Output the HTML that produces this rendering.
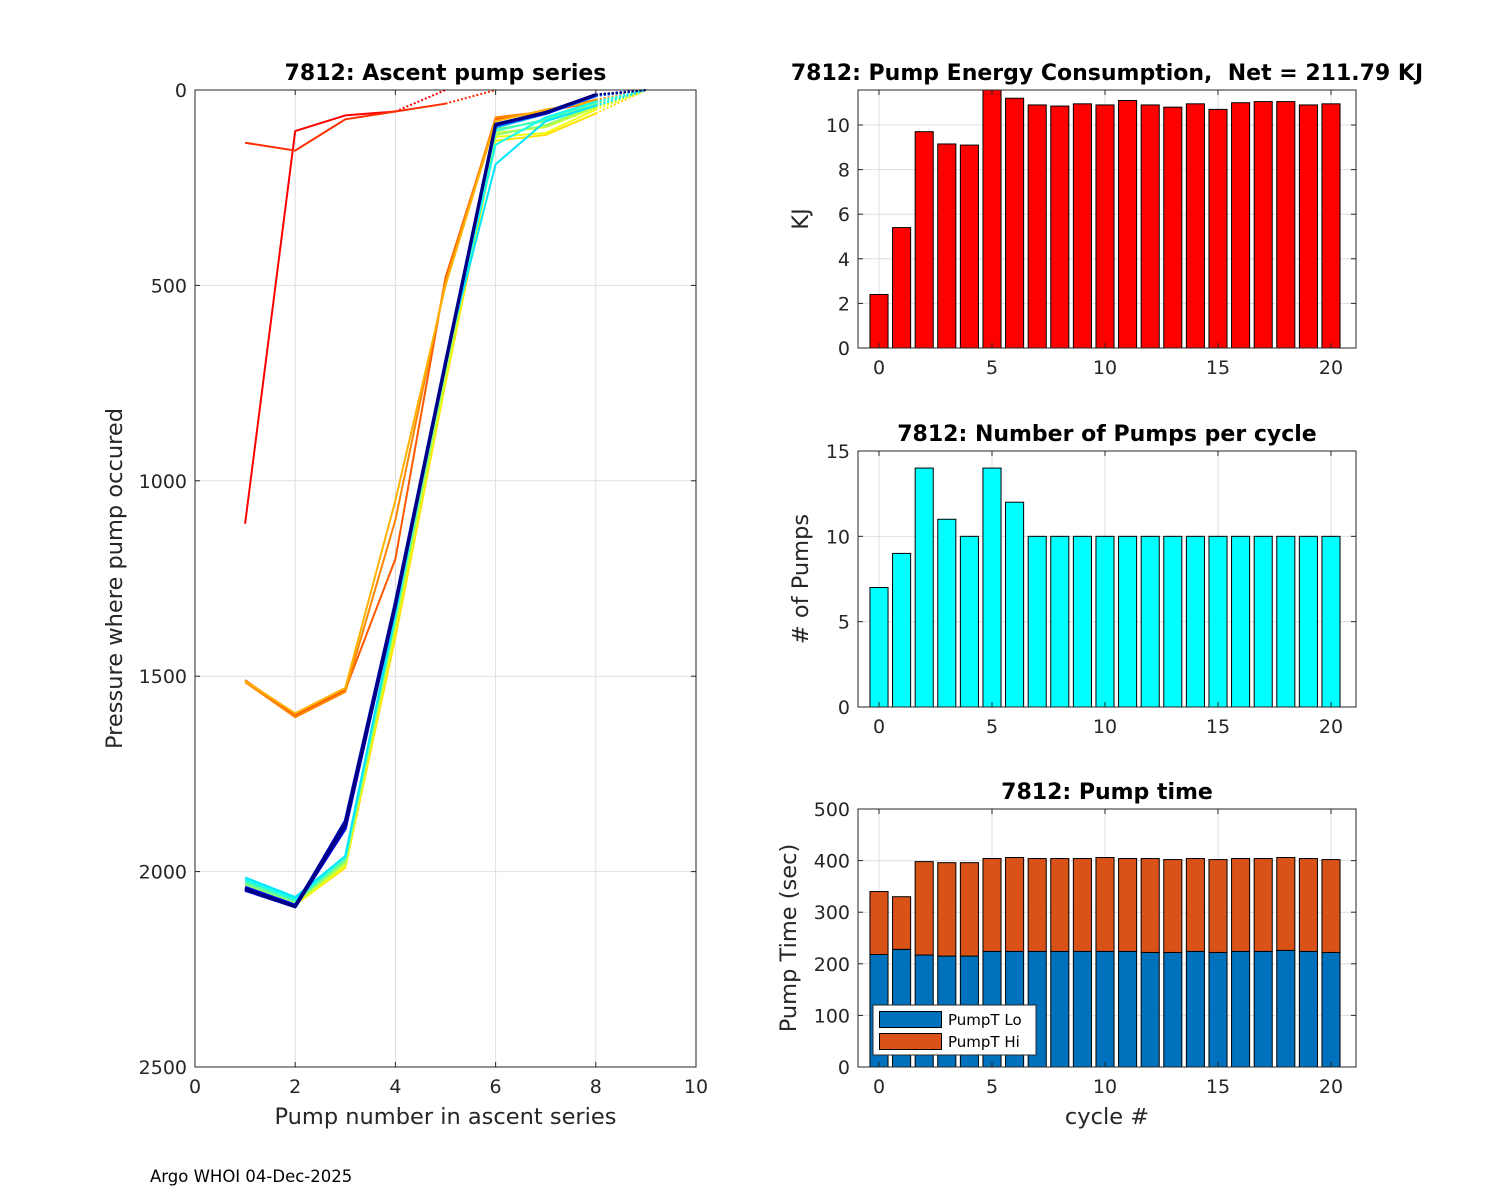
<!DOCTYPE html>
<html><head><meta charset="utf-8">
<style>
html,body{margin:0;padding:0;background:#fff;}
svg{display:block;font-family:"DejaVu Sans","Liberation Sans",sans-serif;}
</style></head>
<body>
<svg id="fig" width="1500" height="1200" viewBox="0 0 1500 1200" xmlns="http://www.w3.org/2000/svg"></svg>
<script>
// ---------- DATA ----------
const cycles = [0,1,2,3,4,5,6,7,8,9,10,11,12,13,14,15,16,17,18,19,20];
const energyKJ = [2.4,5.4,9.7,9.15,9.1,11.6,11.2,10.9,10.85,10.95,10.9,11.1,10.9,10.8,10.95,10.7,11.0,11.05,11.05,10.9,10.95];
const pumpCounts = [7,9,14,11,10,14,12,10,10,10,10,10,10,10,10,10,10,10,10,10,10];
const pumpTLo = [218,228,217,215,215,224,224,224,224,224,224,224,222,222,224,222,224,224,226,224,222];
const pumpTHi = [122,102,181,181,181,180,182,180,180,180,182,180,182,180,180,180,180,180,180,180,180];
const ascentSeries = [
 [1110,105,65,55,0],
 [135,155,75,55,35,0],
 [1510,1600,1535,1200,480,75,55,30,0],
 [1515,1605,1540,1100,490,70,55,25,0],
 [1512,1595,1530,1050,500,80,50,30,0],
 [2045,2085,1990,1400,750,130,115,60,0],
 [2040,2085,1985,1380,740,120,110,50,0],
 [2040,2080,1980,1370,730,110,95,45,0],
 [2035,2080,1975,1360,720,115,90,40,0],
 [2030,2075,1970,1350,710,100,80,35,0],
 [2025,2075,1965,1345,700,105,75,30,0],
 [2020,2070,1960,1340,690,140,70,30,0],
 [2015,2065,1960,1340,690,190,80,40,0],
 [2045,2090,1880,1320,700,95,60,15,0],
 [2042,2088,1875,1315,700,92,60,15,0],
 [2044,2090,1885,1320,700,90,58,15,0],
 [2046,2090,1870,1310,695,90,58,12,0],
 [2040,2086,1878,1315,700,88,60,12,0],
 [2048,2090,1890,1320,700,90,58,12,0],
 [2043,2088,1872,1312,698,88,57,12,0],
 [2045,2090,1880,1318,700,88,58,12,0]
];
const leftXTicks = [0,2,4,6,8,10];
const leftYTicks = [0,500,1000,1500,2000,2500];
const barXTicks = [0,5,10,15,20];
const energyYTicks = [0,2,4,6,8,10];
const pumpsYTicks = [0,5,10,15];
const timeYTicks = [0,100,200,300,400,500];

// ---------- HELPERS ----------
const NS="http://www.w3.org/2000/svg";
const svg=document.getElementById('fig');
function mk(tag,attrs,parent){const e=document.createElementNS(NS,tag);for(const k in attrs)e.setAttribute(k,attrs[k]);(parent||svg).appendChild(e);return e;}
function txt(s,attrs,parent){const e=mk('text',attrs,parent);e.textContent=s;return e;}
function jet(t){
  function c(x){return Math.max(0,Math.min(1,x));}
  const r=c(1.5-Math.abs(4*t-3)),g=c(1.5-Math.abs(4*t-2)),b=c(1.5-Math.abs(4*t-1));
  return `rgb(${Math.round(r*255)},${Math.round(g*255)},${Math.round(b*255)})`;
}

function axesFrame(name,L,T,R,B,xTicks,xs,yTicks,ys){
  const g=mk('g',{});
  
  
  mk('rect',{x:L,y:T,width:R-L,height:B-T,fill:'#fff'},g);
  xTicks.forEach(v=>{const x=xs(v);const l=mk('line',{x1:x,y1:T,x2:x,y2:B,stroke:'#dfdfdf','stroke-width':1},g);});
  yTicks.forEach(v=>{const y=ys(v);const l=mk('line',{x1:L,y1:y,x2:R,y2:y,stroke:'#dfdfdf','stroke-width':1},g);});
  return g;
}
function axesBorder(L,T,R,B,xTicks,xs,yTicks,ys){
  const g=mk('g',{});
  
  
  mk('rect',{x:L,y:T,width:R-L,height:B-T,fill:'none',stroke:'#262626','stroke-width':1},g);
  xTicks.forEach(v=>{const x=xs(v);
    mk('line',{x1:x,y1:B,x2:x,y2:B-5,stroke:'#262626'},g);
    mk('line',{x1:x,y1:T,x2:x,y2:T+5,stroke:'#262626'},g);
    const t=txt(String(v),{x:x,y:B+26,'text-anchor':'middle','font-size':19,fill:'#262626'},g);
    });
  yTicks.forEach(v=>{const y=ys(v);
    mk('line',{x1:L,y1:y,x2:L+5,y2:y,stroke:'#262626'},g);
    mk('line',{x1:R,y1:y,x2:R-5,y2:y,stroke:'#262626'},g);
    const t=txt(String(v),{x:L-8,y:y+7,'text-anchor':'end','font-size':19,fill:'#262626'},g);
    });
}

// ---------- LEFT: ascent pump series ----------
(function(){
  const L=195,T=90,R=696,B=1067;
  const xs=v=>L+(v-0)/10*(R-L);
  const ys=v=>T+(v-0)/2500*(B-T);
  axesFrame('ascent-axes',L,T,R,B,leftXTicks,xs,leftYTicks,ys);
  const clip=mk('clipPath',{id:'cl1'});mk('rect',{x:L,y:T-3,width:R-L,height:B-T+3},clip);
  const g=mk('g',{'clip-path':'url(#cl1)'});
  
  
  ascentSeries.forEach((s,i)=>{
    const col=jet(0.875*(1-i/(ascentSeries.length-1)));
    const n=s.length;
    const pts=s.slice(0,n-1).map((p,k)=>xs(k+1)+','+ys(p)).join(' ');
    const pl=mk('polyline',{points:pts,fill:'none',stroke:col,'stroke-width':i>=13?3:2,'stroke-linejoin':'round'},g);
    
    
    const d=mk('line',{x1:xs(n-1),y1:ys(s[n-2]),x2:xs(n),y2:ys(s[n-1]),stroke:col,'stroke-width':2,'stroke-dasharray':'2,2'},g);
    
    
  });
  axesBorder(L,T,R,B,leftXTicks,xs,leftYTicks,ys);
  const t=txt('7812: Ascent pump series',{x:(L+R)/2,y:80,'text-anchor':'middle','font-size':22,'font-weight':'bold',fill:'#000'});
  
  const xl=txt('Pump number in ascent series',{x:(L+R)/2,y:1124,'text-anchor':'middle','font-size':22.5,fill:'#262626'});
  
  const yl=txt('Pressure where pump occured',{x:0,y:0,'text-anchor':'middle','font-size':22.5,fill:'#262626',transform:`translate(122,${(T+B)/2}) rotate(-90)`});
  
})();

// ---------- RIGHT: bar charts ----------
function barChart(opt){
  const L=858,R=1356,T=opt.T,B=opt.B;
  const xs=v=>879+(v/20)*(1331-879);
  const ys=v=>B-(v/opt.ymax)*(B-T);
  axesFrame(opt.name,L,T,R,B,barXTicks,xs,opt.yTicks,ys);
  const bw=0.8*(1331-879)/20;
  const g=mk('g',{});
  
  
  cycles.forEach((c,i)=>{
    let base=0;
    opt.series.forEach((ser,si)=>{
      const v=ser[i];
      const y0=ys(Math.min(base+v,opt.ymax)),y1=ys(base);
      const r=mk('rect',{x:xs(c)-bw/2,y:y0,width:bw,height:y1-y0,fill:opt.colors[si],stroke:'#000','stroke-width':1},g);
      
      
      base+=v;
    });
  });
  axesBorder(L,T,R,B,barXTicks,xs,opt.yTicks,ys);
  const t=txt(opt.title,{x:opt.titleX||(L+R)/2,y:T-10,'text-anchor':'middle','font-size':22,'font-weight':'bold',fill:'#000'});
  
  const yl=txt(opt.ylabel,{x:0,y:0,'text-anchor':'middle','font-size':22.5,fill:'#262626',transform:`translate(${opt.ylx},${(T+B)/2}) rotate(-90)`});
  
}
barChart({name:'energy-chart',T:90,B:348,ymax:11.57,yTicks:energyYTicks,series:[energyKJ],colors:['#ff0000'],barName:['energy'],
  title:'7812: Pump Energy Consumption,\u00a0 Net = 211.79 KJ',titleX:1107,ylabel:'KJ',ylx:808});
barChart({name:'pumps-chart',T:451,B:707,ymax:15,yTicks:pumpsYTicks,series:[pumpCounts],colors:['#00ffff'],barName:['pumps'],
  title:'7812: Number of Pumps per cycle',ylabel:'# of Pumps',ylx:808});
barChart({name:'pumptime-chart',T:809,B:1067,ymax:500,yTicks:timeYTicks,series:[pumpTLo,pumpTHi],colors:['#0072bd','#d95319'],barName:['pumpt-lo','pumpt-hi'],
  title:'7812: Pump time',ylabel:'Pump Time (sec)',ylx:796});

// legend
(function(){
  const g=mk('g',{});
  
  
  mk('rect',{x:873,y:1005,width:163,height:50,fill:'#fff',stroke:'#262626','stroke-width':1},g);
  const e1=mk('g',{},g);
  mk('rect',{x:879.5,y:1011.5,width:62,height:16,fill:'#0072bd',stroke:'#000'},e1);
  txt('PumpT Lo',{x:948,y:1025,'font-size':15,fill:'#000'},e1);
  const e2=mk('g',{},g);
  mk('rect',{x:879.5,y:1033.5,width:62,height:16,fill:'#d95319',stroke:'#000'},e2);
  txt('PumpT Hi',{x:948,y:1047,'font-size':15,fill:'#000'},e2);
})();
const xl2=txt('cycle #',{x:1107,y:1124,'text-anchor':'middle','font-size':22.5,fill:'#262626'});

const ft=txt('Argo WHOI 04-Dec-2025',{x:150,y:1182,'font-size':16.5,fill:'#000'});

</script>
</body></html>
